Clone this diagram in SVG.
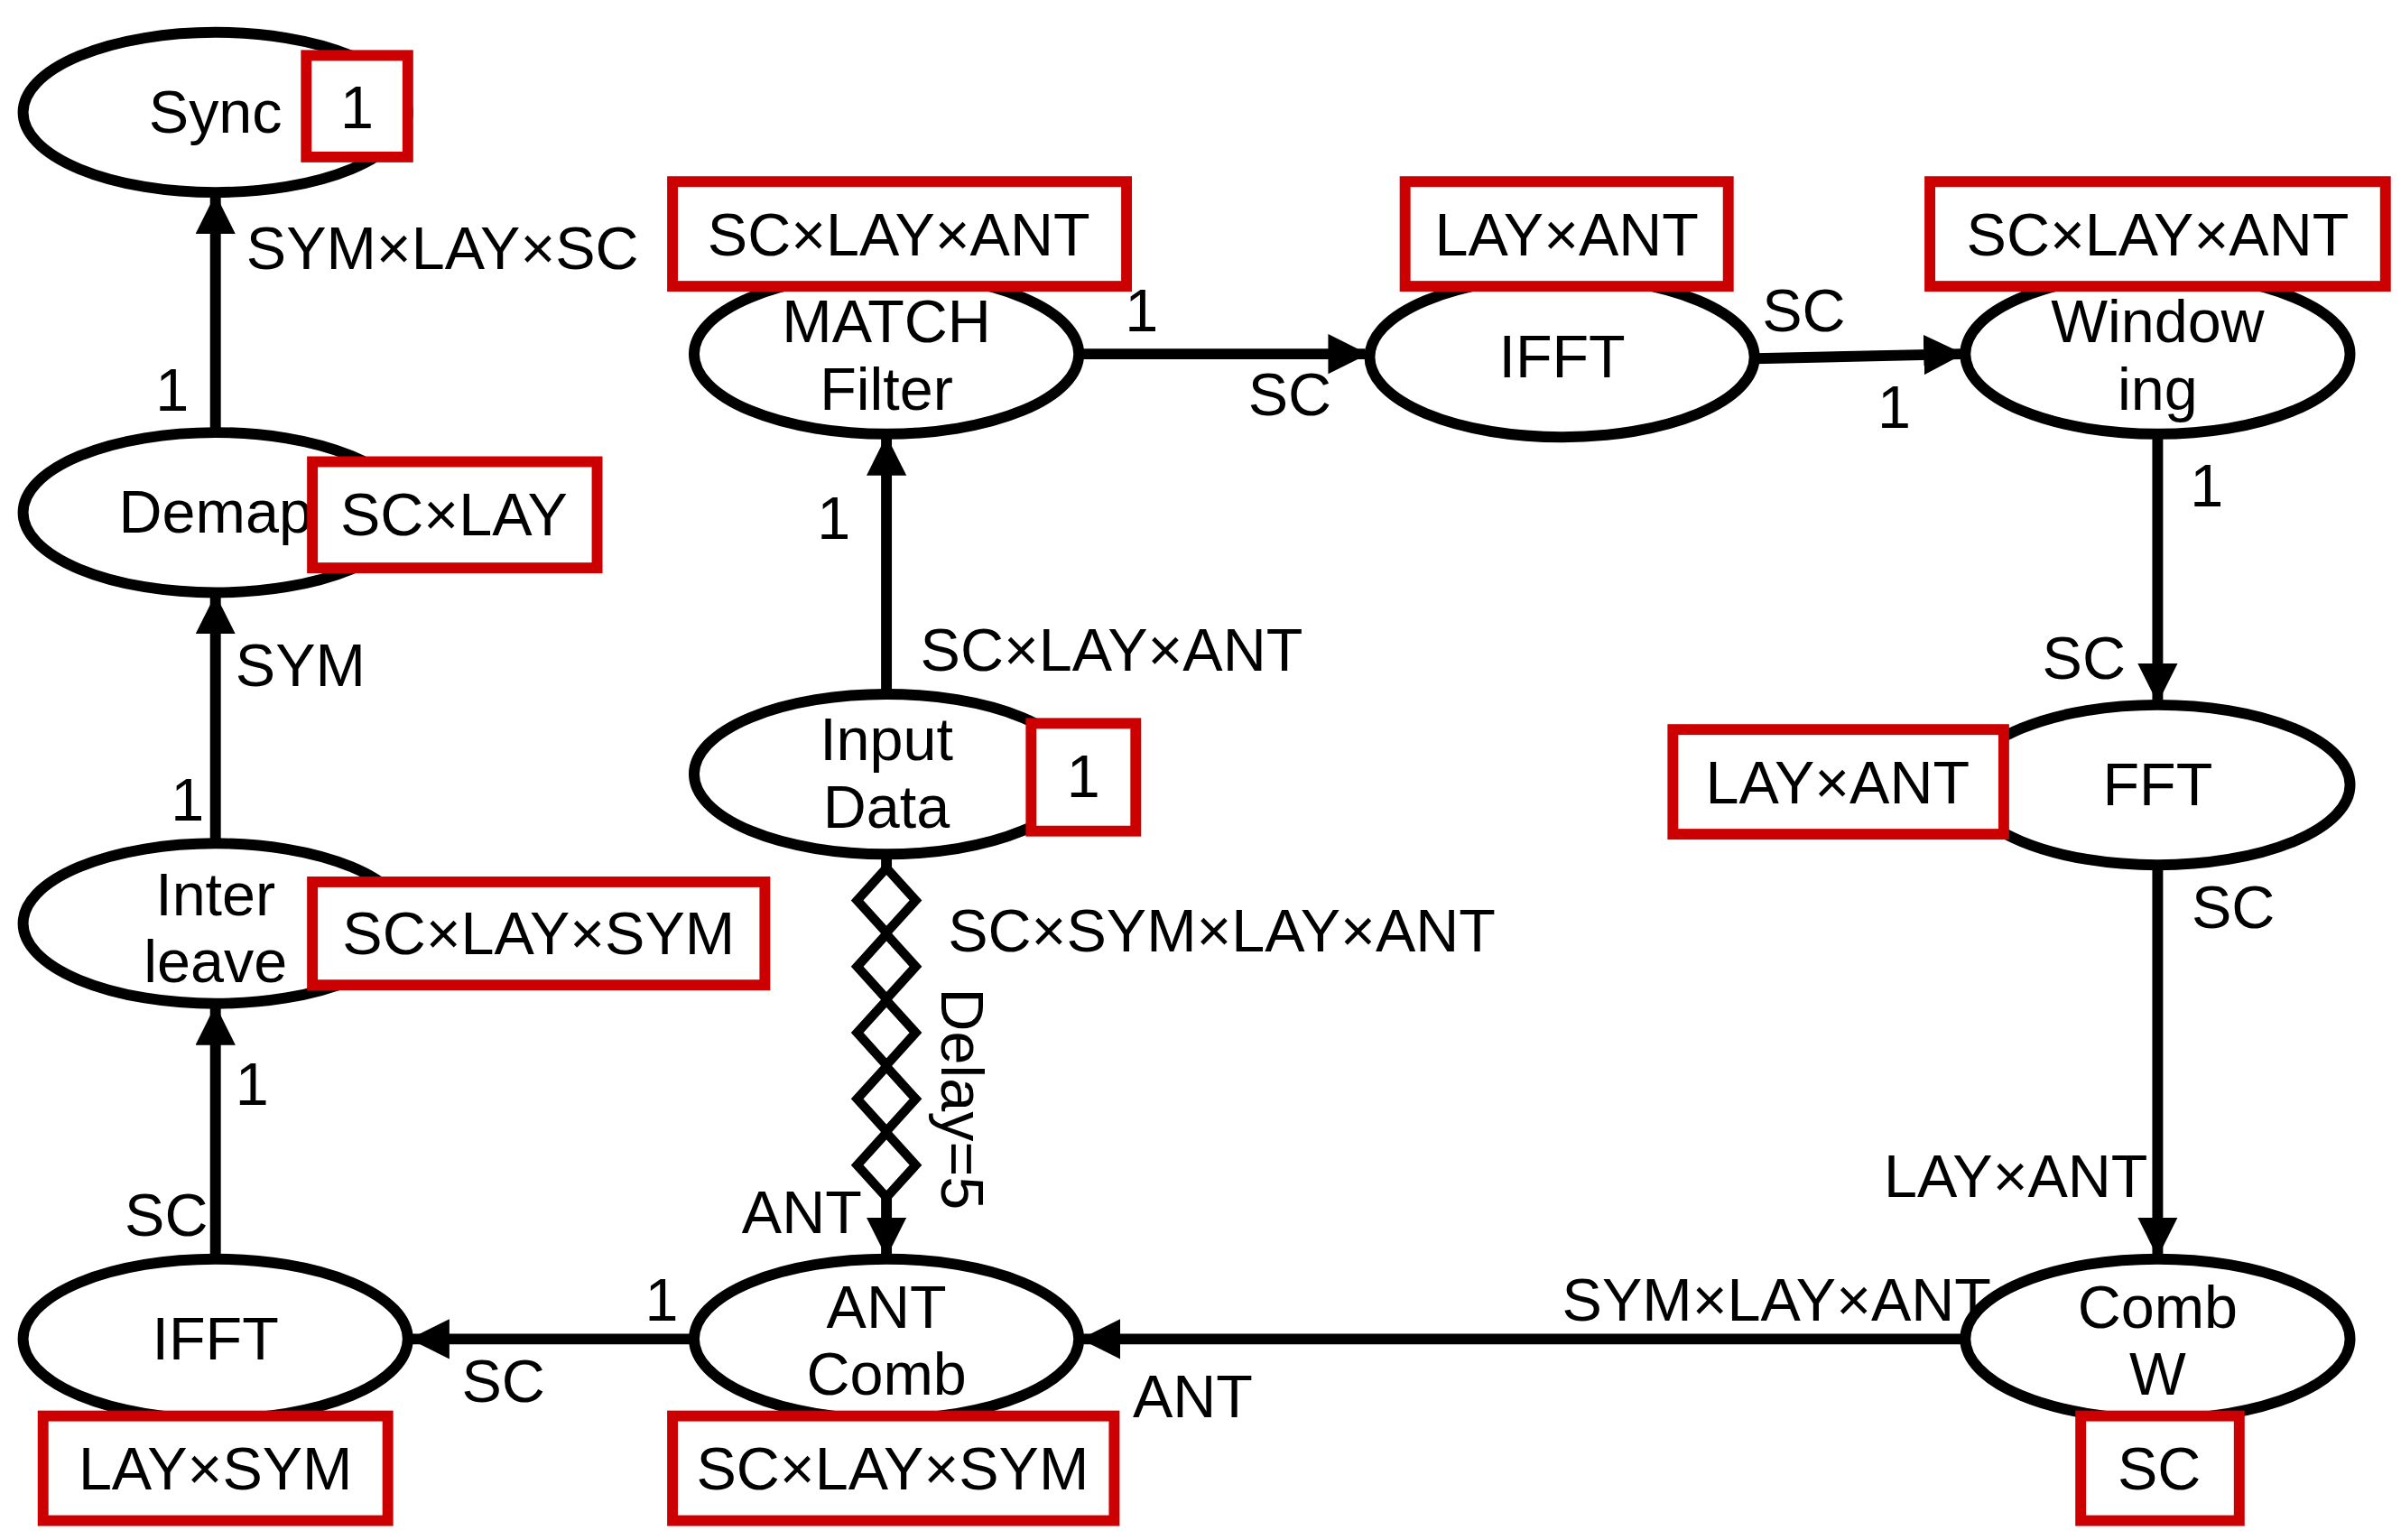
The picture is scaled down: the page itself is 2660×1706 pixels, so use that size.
<svg xmlns="http://www.w3.org/2000/svg" width="2660" height="1706" viewBox="0 0 2660 1706">
<style>
text{font-family:"Liberation Sans",Arial,sans-serif;font-size:39px;fill:#000}
.n{text-anchor:middle}
.e{fill:#fff;stroke:#000;stroke-width:7}
.b{fill:#fff;stroke:#cc0000;stroke-width:7}
.c{stroke:#000;stroke-width:7;fill:none}
.d{fill:#fff;stroke:#000;stroke-width:6}
</style>
<defs>
<marker id="a" markerUnits="userSpaceOnUse" markerWidth="26" markerHeight="32" refX="24" refY="13" orient="auto"><path d="M0,0 L26,13 L0,26 Z" fill="#000"/></marker>
</defs>
<rect width="2660" height="1706" fill="#fff"/>
<g transform="scale(1.705)">
<g id="connectors">
<line class="c" x1="140" y1="281" x2="140" y2="128" marker-end="url(#a)"/>
<line class="c" x1="140" y1="548" x2="140" y2="388" marker-end="url(#a)"/>
<line class="c" x1="140" y1="818" x2="140" y2="655" marker-end="url(#a)"/>
<line class="c" x1="451" y1="870" x2="268" y2="870" marker-end="url(#a)"/>
<line class="c" x1="576" y1="451" x2="576" y2="285" marker-end="url(#a)"/>
<line class="c" x1="701" y1="230" x2="887" y2="230" marker-end="url(#a)"/>
<line class="c" x1="1140" y1="233" x2="1274" y2="230" marker-end="url(#a)"/>
<line class="c" x1="1402" y1="282" x2="1402" y2="455" marker-end="url(#a)"/>
<line class="c" x1="1402" y1="562" x2="1402" y2="815" marker-end="url(#a)"/>
<line class="c" x1="1277" y1="870" x2="704" y2="870" marker-end="url(#a)"/>
<line class="c" x1="576" y1="555" x2="576" y2="815" marker-end="url(#a)"/>
<path class="d" d="M576,564 L595,585 L576,606 L557,585 Z"/>
<path class="d" d="M576,607 L595,628 L576,649 L557,628 Z"/>
<path class="d" d="M576,650 L595,671 L576,692 L557,671 Z"/>
<path class="d" d="M576,693 L595,714 L576,735 L557,714 Z"/>
<path class="d" d="M576,736 L595,757 L576,778 L557,757 Z"/>
<text x="160" y="175">SYM×LAY×SC</text>
<text x="101" y="267">1</text>
<text x="153" y="446">SYM</text>
<text x="111" y="533">1</text>
<text x="153" y="718">1</text>
<text x="81" y="803">SC</text>
<text x="419" y="858">1</text>
<text x="300" y="911">SC</text>
<text x="531" y="350">1</text>
<text x="598" y="436">SC×LAY×ANT</text>
<text x="616" y="618">SC×SYM×LAY×ANT</text>
<text transform="translate(612,714) rotate(90)" class="n">Delay=5</text>
<text x="482" y="801">ANT</text>
<text x="731" y="215">1</text>
<text x="811" y="270">SC</text>
<text x="1145" y="215">SC</text>
<text x="1220" y="278">1</text>
<text x="1423" y="329">1</text>
<text x="1327" y="441">SC</text>
<text x="1424" y="603">SC</text>
<text x="1224" y="778">LAY×ANT</text>
<text x="1015" y="858">SYM×LAY×ANT</text>
<text x="736" y="921">ANT</text>
</g>
<g id="sync"><ellipse class="e" cx="140" cy="73" rx="125" ry="52"/><text class="n" x="140" y="86">Sync</text><rect class="b" x="199" y="36" width="66" height="66"/><text class="n" x="232" y="83">1</text></g>
<g id="demap"><ellipse class="e" cx="140" cy="333" rx="125" ry="52"/><text class="n" x="140" y="346">Demap</text><rect class="b" x="203" y="300" width="185" height="69"/><text class="n" x="295" y="348">SC×LAY</text></g>
<g id="interleave"><ellipse class="e" cx="140" cy="600" rx="125" ry="52"/><text class="n" x="140" y="595">Inter</text><text class="n" x="140" y="638">leave</text><rect class="b" x="203" y="573" width="294" height="67"/><text class="n" x="350" y="620">SC×LAY×SYM</text></g>
<g id="ifft_left"><ellipse class="e" cx="140" cy="870" rx="125" ry="52"/><text class="n" x="140" y="883">IFFT</text><rect class="b" x="28" y="920" width="224" height="68"/><text class="n" x="140" y="968">LAY×SYM</text></g>
<g id="match"><ellipse class="e" cx="576" cy="230" rx="125" ry="52"/><text class="n" x="576" y="222">MATCH</text><text class="n" x="576" y="266">Filter</text><rect class="b" x="437" y="118" width="295" height="68"/><text class="n" x="584" y="166">SC×LAY×ANT</text></g>
<g id="input"><ellipse class="e" cx="576" cy="503" rx="125" ry="52"/><text class="n" x="576" y="494">Input</text><text class="n" x="576" y="538">Data</text><rect class="b" x="670" y="470" width="68" height="70"/><text class="n" x="704" y="518">1</text></g>
<g id="antcomb"><ellipse class="e" cx="576" cy="870" rx="125" ry="52"/><text class="n" x="576" y="863">ANT</text><text class="n" x="576" y="906">Comb</text><rect class="b" x="437" y="920" width="287" height="68"/><text class="n" x="580" y="968">SC×LAY×SYM</text></g>
<g id="ifft_mid"><ellipse class="e" cx="1015" cy="232" rx="125" ry="52"/><text class="n" x="1015" y="245">IFFT</text><rect class="b" x="913" y="118" width="210" height="68"/><text class="n" x="1018" y="166">LAY×ANT</text></g>
<g id="windowing"><ellipse class="e" cx="1402" cy="230" rx="125" ry="52"/><text class="n" x="1402" y="222">Window</text><text class="n" x="1402" y="266">ing</text><rect class="b" x="1254" y="118" width="296" height="68"/><text class="n" x="1402" y="166">SC×LAY×ANT</text></g>
<g id="fft"><ellipse class="e" cx="1402" cy="510" rx="125" ry="52"/><text class="n" x="1402" y="523">FFT</text><rect class="b" x="1087" y="474" width="215" height="68"/><text class="n" x="1194" y="522">LAY×ANT</text></g>
<g id="combw"><ellipse class="e" cx="1402" cy="870" rx="125" ry="52"/><text class="n" x="1402" y="863">Comb</text><text class="n" x="1402" y="906">W</text><rect class="b" x="1352" y="920" width="103" height="68"/><text class="n" x="1403" y="968">SC</text></g>
</g>
</svg>
